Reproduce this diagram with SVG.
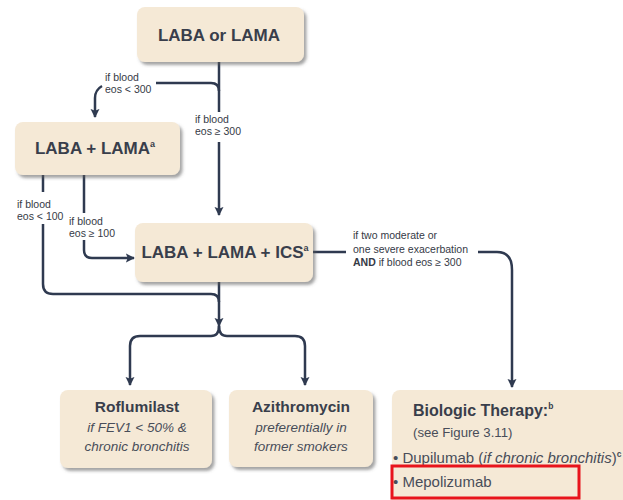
<svg xmlns="http://www.w3.org/2000/svg" width="623" height="500" viewBox="0 0 623 500">
  <defs>
    <filter id="shadow" x="-10%" y="-10%" width="130%" height="140%">
      <feDropShadow dx="2.5" dy="3" stdDeviation="1.8" flood-color="#5a5a5a" flood-opacity="0.55"/>
    </filter>
    <marker id="arrow" viewBox="0 0 10 10" refX="9" refY="5" markerWidth="9" markerHeight="11" markerUnits="userSpaceOnUse" orient="auto">
      <path d="M0,0 L10,5 L0,10 L2,5 Z" fill="#2f3a50"/>
    </marker>
    <style>
      .box { fill: #f5e9d6; filter: url(#shadow); }
      .title { font-family: "Liberation Sans", Arial, sans-serif; font-weight: bold; fill: #393e4b; }
      .sub { font-family: "Liberation Sans", Arial, sans-serif; font-style: italic; font-size: 13.5px; fill: #484d59; }
      .lbl { font-family: "Liberation Sans", Arial, sans-serif; font-size: 10.5px; fill: #353a46; }
      .body { font-family: "Liberation Sans", Arial, sans-serif; fill: #484d59; }
      .wire { fill: none; stroke: #2f3a50; stroke-width: 2.5; }
    </style>
  </defs>
  <rect width="623" height="500" fill="#ffffff"/>

  <!-- connectors -->
  <g id="connectors">
    <!-- LABA or LAMA down to triple therapy -->
    <path class="wire" d="M219,62 V112"/>
    <path class="wire" d="M219,142 V215" marker-end="url(#arrow)"/>
    <!-- branch to LABA + LAMA -->
    <path class="wire" d="M156,83 H211 Q219,83 219,91"/>
    <path class="wire" d="M102,86 Q95,90 95,98 V117" marker-end="url(#arrow)"/>
    <!-- LABA + LAMA, eos < 100 -->
    <path class="wire" d="M43,175 V192"/>
    <path class="wire" d="M43,224 V284 Q43,294 53,294 H211 Q219,294 219,302"/>
    <!-- LABA + LAMA, eos >= 100 -->
    <path class="wire" d="M84,175 V213"/>
    <path class="wire" d="M84,240 V250 Q84,258 92,258 H134" marker-end="url(#arrow)"/>
    <!-- triple therapy down to the split -->
    <path class="wire" d="M219,282 V326" marker-end="url(#arrow)"/>
    <path class="wire" d="M219,326 Q219,336 211,336 H140 Q130,336 130,346 V385" marker-end="url(#arrow)"/>
    <path class="wire" d="M219,326 Q219,336 227,336 H295 Q305,336 305,346 V385" marker-end="url(#arrow)"/>
    <!-- triple therapy to biologics -->
    <path class="wire" d="M313,252 H346"/>
    <path class="wire" d="M478,252 H497 Q512,252 512,270 V387" marker-end="url(#arrow)"/>
  </g>

  <!-- connector labels -->
  <g id="labels">
    <text class="lbl" x="105" y="81">if blood</text>
    <text class="lbl" x="105" y="93">eos &lt; 300</text>
    <text class="lbl" x="195" y="123">if blood</text>
    <text class="lbl" x="195" y="135">eos ≥ 300</text>
    <text class="lbl" x="17" y="208">if blood</text>
    <text class="lbl" x="17" y="220">eos &lt; 100</text>
    <text class="lbl" x="69" y="225">if blood</text>
    <text class="lbl" x="69" y="237">eos ≥ 100</text>
    <text class="lbl" x="353" y="239" font-size="11">if two moderate or</text>
    <text class="lbl" x="353" y="253" font-size="11">one severe exacerbation</text>
    <text class="lbl" x="353" y="266" font-size="11"><tspan font-weight="bold">AND</tspan> if blood eos ≥ 300</text>
  </g>

  <g id="laba-or-lama">
    <rect class="box" x="137" y="7" width="167" height="55" rx="8"/>
    <text class="title" x="219" y="41" font-size="17" text-anchor="middle">LABA or LAMA</text>
  </g>

  <g id="laba-lama">
    <rect class="box" x="15" y="122" width="165" height="53" rx="8"/>
    <text class="title" x="95" y="154" font-size="17" text-anchor="middle">LABA + LAMA<tspan font-size="9" dy="-7">a</tspan></text>
  </g>

  <g id="laba-lama-ics">
    <rect class="box" x="135" y="223" width="178" height="59" rx="8"/>
    <text class="title" x="225" y="258" font-size="17" text-anchor="middle">LABA + LAMA + ICS<tspan font-size="9" dy="-7">a</tspan></text>
  </g>

  <g id="roflumilast">
    <rect class="box" x="60" y="390" width="152" height="78" rx="8"/>
    <text class="title" x="137" y="412" font-size="15.5" text-anchor="middle">Roflumilast</text>
    <text class="sub" x="137" y="432" text-anchor="middle">if FEV1 &lt; 50% &amp;</text>
    <text class="sub" x="137" y="451" text-anchor="middle">chronic bronchitis</text>
  </g>

  <g id="azithromycin">
    <rect class="box" x="229" y="390" width="144" height="77" rx="8"/>
    <text class="title" x="301" y="412" font-size="15.5" text-anchor="middle">Azithromycin</text>
    <text class="sub" x="301" y="432" text-anchor="middle">preferentially in</text>
    <text class="sub" x="301" y="451" text-anchor="middle">former smokers</text>
  </g>

  <g id="biologic-therapy">
    <rect class="box" x="392" y="390" width="250" height="125" rx="8"/>
    <text class="title" x="413" y="416" font-size="16">Biologic Therapy:<tspan font-size="8.5" dy="-7">b</tspan></text>
    <text class="body" x="413" y="437" font-size="13.2">(see Figure 3.11)</text>
    <text class="body" x="393" y="463" font-size="15">• Dupilumab (<tspan font-style="italic">if chronic bronchitis</tspan>)<tspan font-size="8.5" dy="-6" font-weight="bold">c</tspan></text>
    <text class="body" x="393" y="487" font-size="15">• Mepolizumab</text>
    <rect x="392" y="466" width="187" height="32" fill="none" stroke="#e8141c" stroke-width="3"/>
  </g>
</svg>
